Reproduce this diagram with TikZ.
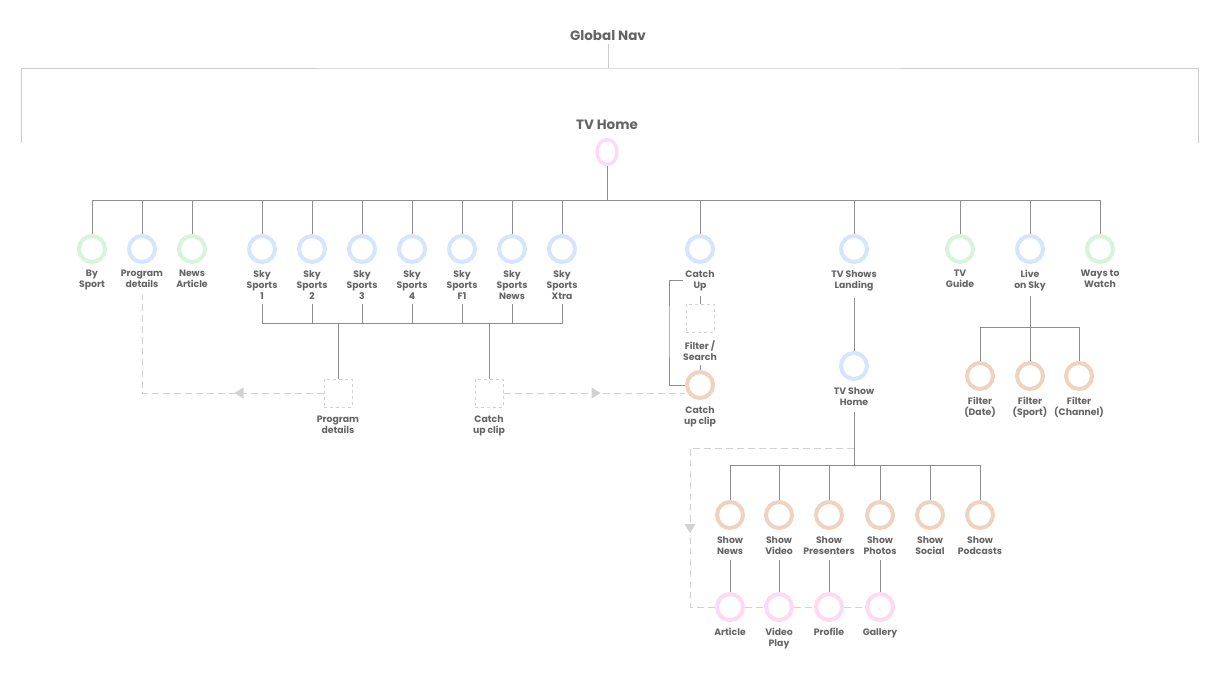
\documentclass[tikz,border=0pt]{standalone}
\usepackage{fontspec}
\setmainfont{Poppins}
\usetikzlibrary{positioning,shapes.geometric,arrows.meta,decorations.markings}

\definecolor{txtgrey}{HTML}{646464}
\definecolor{linegrey}{HTML}{8E8E8E}
\definecolor{navgrey}{HTML}{CCCCCC}
\definecolor{dashgrey}{HTML}{D2D2D2}
\definecolor{greenR}{HTML}{D6F3DC}
\definecolor{blueR}{HTML}{D4E5FD}
\definecolor{peachR}{HTML}{EFD3BF}
\definecolor{pinkR}{HTML}{FDDAF2}

\begin{document}
\begin{tikzpicture}[x=1pt,y=-1pt,
        ring/.style={circle, draw=#1, line width=4pt, minimum size=26pt, inner sep=0pt},
        pagebox/.style={draw=dashgrey, dashed, line width=1pt, minimum size=28pt, inner sep=0pt},
        lbl/.style={font=\bfseries\fontsize{9.3}{11}\selectfont, text=txtgrey, align=center, inner sep=1pt},
        title/.style={font=\bfseries\fontsize{13.5}{15}\selectfont, text=txtgrey, inner sep=1pt},
        link/.style={draw=linegrey, line width=1pt},
        navline/.style={draw=navgrey, line width=1pt},
        flowdash/.style={draw=dashgrey, line width=1pt, dash pattern=on 7pt off 4pt},
        midarrow/.style={postaction={decorate}, decoration={markings,
            mark=at position #1 with {\arrow{Triangle[width=11pt,length=9pt,color=dashgrey]}}}}
    ]
        \useasboundingbox (0,0) rectangle (1220,675);

        % global nav bracket
        \node[title] (gnav) at (608,36) {Global Nav};
        \coordinate (navbar) at (608,68);
        \coordinate (navL) at (21,143);
        \coordinate (navR) at (1198,143);
        \draw[navline] ([yshift=-2pt]gnav.south) -- (navbar);
        \draw[navline] (navL) |- (navbar) -| (navR);

        % tv home
        \node[title] (tvhome-l) at (607,125) {TV Home};
        \node[ellipse, draw=pinkR, line width=3.5pt, minimum width=20pt, minimum height=25pt, inner sep=0pt]
            (tvhome) at (607,152) {};
        \coordinate (homebar) at (607,200);
        \draw[link] (tvhome.south) -- (homebar);

        % first level
        \foreach \n/\x/\c/\t in {
            bysport/92/greenR/{By\\Sport},
            progdet/142/blueR/{Program\\details},
            newsart/192/greenR/{News\\Article},
            ss1/262/blueR/{Sky\\Sports\\1},
            ss2/312/blueR/{Sky\\Sports\\2},
            ss3/362/blueR/{Sky\\Sports\\3},
            ss4/412/blueR/{Sky\\Sports\\4},
            ssf1/462/blueR/{Sky\\Sports\\F1},
            ssnews/512/blueR/{Sky\\Sports\\News},
            ssxtra/562/blueR/{Sky\\Sports\\Xtra},
            catchup/700/blueR/{Catch\\Up},
            showland/854/blueR/{TV Shows\\Landing},
            tvguide/960/greenR/{TV\\Guide},
            liveon/1030/blueR/{Live\\on Sky},
            ways/1100/greenR/{Ways to\\Watch}}
        {
            \node[ring=\c] (\n) at (\x,249) {};
            \node[lbl, below=5pt of \n] (\n-l) {\t};
            \draw[link] (homebar) -| (\n.north);
        }

        % sky sports pages
        \node[pagebox] (pdbox) at (338,393) {};
        \node[lbl, below=7pt of pdbox] (pdbox-l) {Program\\details};
        \node[pagebox] (cubox) at (489,393) {};
        \node[lbl, below=7pt of cubox] (cubox-l) {Catch\\up clip};
        \coordinate (skyL) at (338,323);
        \coordinate (skyR) at (489,323);
        \foreach \n in {ss1,ss2,ss3,ss4,ssf1,ssnews,ssxtra}
            \draw[link] ([yshift=-4pt]\n-l.south) |- (skyL);
        \draw[link] (skyL) -- (pdbox.north);
        \draw[link] (skyR) -- (cubox.north);

        % catch up
        \node[pagebox] (fsbox) at (700,318) {};
        \node[lbl, below=7pt of fsbox] (fsbox-l) {Filter /\\Search};
        \node[ring=peachR] (cuclip) at (700,385) {};
        \node[lbl, below=5pt of cuclip] (cuclip-l) {Catch\\up clip};
        \coordinate (cuside) at (669,330);
        \draw[link] ([yshift=-4pt]catchup-l.south) -- (fsbox.north);
        \draw[link] ([yshift=-3pt]fsbox-l.south) -- (cuclip.north);
        \draw[link] ([xshift=-1pt]catchup-l.west) -| (cuside) |- (cuclip.west);

        % dashed page links
        \draw[flowdash, midarrow=89pt] (pdbox.west) -| ([yshift=-6pt]progdet-l.south);
        \draw[flowdash, midarrow=97pt] (cubox.east) -- (cubox.east -| cuclip.west);

        % tv shows
        \node[ring=blueR] (showhome) at (854,366) {};
        \node[lbl, below=5pt of showhome] (showhome-l) {TV Show\\Home};
        \draw[link] ([yshift=-6pt]showland-l.south) -- (showhome.north);
        \coordinate (showbar) at (854,465);
        \coordinate (showfork) at (854,448);
        \draw[link] ([yshift=-6pt]showhome-l.south) -- (showbar);

        \foreach \n/\x/\t in {
            shnews/730/{Show\\News},
            shvideo/779/{Show\\Video},
            shpres/829/{Show\\Presenters},
            shphotos/880/{Show\\Photos},
            shsocial/930/{Show\\Social},
            shpods/980/{Show\\Podcasts}}
        {
            \node[ring=peachR] (\n) at (\x,515) {};
            \node[lbl, below=5pt of \n] (\n-l) {\t};
            \draw[link] (showbar) -| (\n.north);
        }

        \foreach \n/\p/\t in {
            article/shnews/{Article},
            videoplay/shvideo/{Video\\Play},
            profile/shpres/{Profile},
            gallery/shphotos/{Gallery}}
        {
            \node[ring=pinkR] (\n) at (\p |- 0,607) {};
            \node[lbl, below=5pt of \n] (\n-l) {\t};
            \draw[link] ([yshift=-5pt]\p-l.south) -- (\n.north);
        }

        \coordinate (gutter) at (690,530);
        \draw[flowdash, midarrow=249pt] (showfork) -| (gutter) |- (article.west);
        \draw[flowdash] (article.east) -- (videoplay.west);
        \draw[flowdash] (videoplay.east) -- (profile.west);
        \draw[flowdash] (profile.east) -- (gallery.west);

        % live on sky filters
        \coordinate (livebar) at (1030,327);
        \draw[link] ([yshift=-4pt]liveon-l.south) -- (livebar);
        \foreach \n/\x/\t in {
            fdate/980/{Filter\\(Date)},
            fsport/1030/{Filter\\(Sport)},
            fchan/1079/{Filter\\(Channel)}}
        {
            \node[ring=peachR] (\n) at (\x,376) {};
            \node[lbl, below=5pt of \n] (\n-l) {\t};
            \draw[link] (livebar) -| (\n.north);
        }
    \end{tikzpicture}
\end{document}
